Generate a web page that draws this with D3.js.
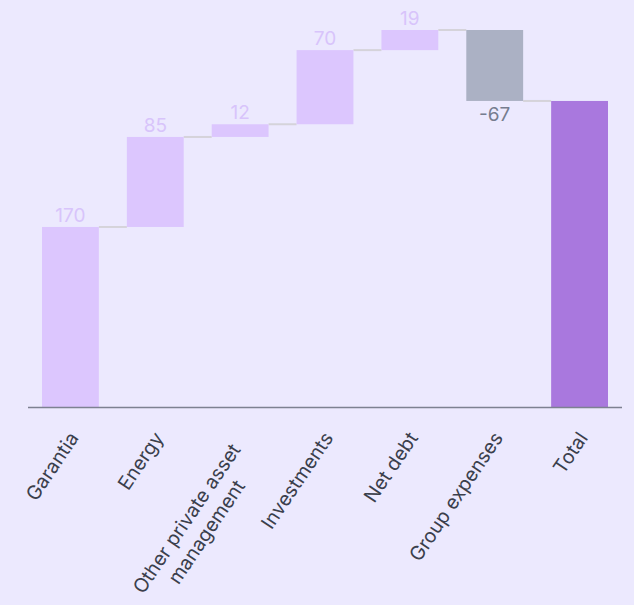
<!DOCTYPE html>
<html>
<head>
<meta charset="utf-8">
<script src="https://cdn.jsdelivr.net/npm/d3@7"></script>
<style>
  html, body { margin: 0; padding: 0; background: #ECE9FE; }
  svg { display: block; font-family: Inter, "Noto Sans", sans-serif; }
</style>
</head>
<body>
<svg id="chart" width="634" height="605"></svg>
<script>
// Waterfall: contributions by segment, ending in a total
const categories = ["Garantia", "Energy", "Other private asset\nmanagement", "Investments", "Net debt", "Group expenses", "Total"];
const values = [170, 85, 12, 70, 19, -67, null]; // null marks the total bar
const valueLabels = ["170", "85", "12", "70", "19", "-67", ""];

const width = 634, height = 605;
const margin = { left: 28, right: 12, top: 30, bottom: 198 };
const baseY = height - margin.bottom;

// Running totals for each step
let running = 0;
const steps = categories.map((c, i) => {
  if (values[i] === null) {
    return { cat: c, start: 0, end: running, kind: "total", label: valueLabels[i] };
  }
  const start = running;
  running += values[i];
  return { cat: c, start, end: running, kind: values[i] >= 0 ? "up" : "down", label: valueLabels[i] };
});

const maxLevel = d3.max(steps, d => Math.max(d.start, d.end));

const x = d3.scaleBand()
  .domain(categories)
  .range([margin.left, width - margin.right])
  .paddingInner(0.33)
  .paddingOuter(0.165);

const y = d3.scaleLinear()
  .domain([0, maxLevel])
  .range([baseY, margin.top]);

const colors = { up: "#DCC6FE", down: "#ABB1C4", total: "#A978DE" };

const svg = d3.select("#chart");

// Connectors between consecutive bars at the running level
svg.append("g")
  .selectAll("line")
  .data(steps.slice(0, -1))
  .join("line")
  .attr("x1", d => x(d.cat) + x.bandwidth())
  .attr("x2", (d, i) => x(steps[i + 1].cat))
  .attr("y1", d => y(d.end))
  .attr("y2", d => y(d.end))
  .attr("stroke", "#D5D3DA")
  .attr("stroke-width", 2);

// Bars
svg.append("g")
  .selectAll("rect")
  .data(steps)
  .join("rect")
  .attr("x", d => x(d.cat))
  .attr("width", x.bandwidth())
  .attr("y", d => y(Math.max(d.start, d.end)))
  .attr("height", d => Math.abs(y(d.start) - y(d.end)))
  .attr("fill", d => colors[d.kind]);

// Value labels: above rising bars, below falling ones
svg.append("g")
  .selectAll("text")
  .data(steps.filter(d => d.label !== ""))
  .join("text")
  .attr("x", d => x(d.cat) + x.bandwidth() / 2)
  .attr("y", d => d.kind === "down" ? y(d.end) + 20 : y(d.end) - 5)
  .attr("text-anchor", "middle")
  .attr("font-size", 19)
  .attr("fill", d => d.kind === "down" ? "#767C8F" : "#D8C4FB")
  .text(d => d.label);

// Category axis
const xAxis = svg.append("g");
xAxis.append("line")
  .attr("x1", margin.left)
  .attr("x2", width - margin.right)
  .attr("y1", baseY + 0.5)
  .attr("y2", baseY + 0.5)
  .attr("stroke", "#7D8191")
  .attr("stroke-width", 1.5);

const fontSize = 19.5, lineHeight = 24, angle = -56;
const tick = xAxis.selectAll("g.tick")
  .data(categories)
  .join("g")
  .attr("class", "tick")
  .attr("transform", c => `translate(${x(c) + x.bandwidth() / 2 + 9},${baseY + 31}) rotate(${angle})`);

tick.each(function (c) {
  const lines = c.split("\n");
  const t = d3.select(this).append("text")
    .attr("font-size", fontSize)
    .attr("fill", "#3B3F4C")
    .attr("text-anchor", "middle");
  lines.forEach((ln, i) => {
    t.append("tspan").attr("x", 0).attr("y", i * lineHeight).text(ln);
  });
  // centre the lines on each other; the block ends at the tick anchor,
  // pulled back a little along the baseline when it wraps
  const widths = [];
  t.selectAll("tspan").each(function () { widths.push(this.getComputedTextLength()); });
  const w = d3.max(widths);
  const pull = (lines.length - 1) * 14;
  t.selectAll("tspan").attr("x", -w / 2 - pull);
});
</script>
</body>
</html>
